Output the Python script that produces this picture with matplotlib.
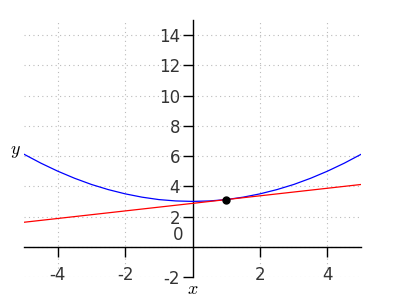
import matplotlib
matplotlib.use('Agg')
import matplotlib.pyplot as plt
import matplotlib.transforms as mtransforms

# curve values
curve_x = [-5.0, -4.5, -4.0, -3.5, -3.0, -2.5, -2.0, -1.5, -1.0, -0.5, 0.0,
           0.5, 1.0, 1.5, 2.0, 2.5, 3.0, 3.5, 4.0, 4.5, 5.0]
curve_y = [6.12, 5.53, 5.00, 4.53, 4.12, 3.78, 3.50, 3.28, 3.12, 3.03, 3.00,
           3.03, 3.12, 3.28, 3.50, 3.78, 4.12, 4.53, 5.00, 5.53, 6.12]

# tangent line endpoints
line_x = [-5.0, 5.0]
line_y = [1.62, 4.12]

# point of tangency
point_x = [1.0]
point_y = [3.12]

x_ticks = [-4, -2, 2, 4]
y_ticks = [-2, 0, 2, 4, 6, 8, 10, 12, 14]

plt.rcParams['mathtext.fontset'] = 'cm'
plt.rcParams['axes.unicode_minus'] = False

fig = plt.figure(figsize=(4, 3), dpi=100)
ax = fig.add_axes([0.06, 0.0767, 0.843, 0.8567])

ax.plot(curve_x, curve_y, color='blue', lw=0.9, zorder=3)
ax.plot(line_x, line_y, color='red', lw=0.9, zorder=3)
ax.plot(point_x, point_y, 'o', color='black', ms=5, zorder=4)

ax.set_xlim(-5, 5)
ax.set_ylim(-2, 15)

# axes crossing at the origin
ax.spines['left'].set_position(('data', 0))
ax.spines['bottom'].set_position(('data', 0))
ax.spines['top'].set_visible(False)
ax.spines['right'].set_visible(False)
for s in ('left', 'bottom'):
    ax.spines[s].set_linewidth(1.0)

ax.set_xticks(x_ticks)
ax.set_yticks(y_ticks)
ax.set_yticklabels([str(v) for v in y_ticks])
ax.tick_params(axis='both', direction='out', length=7, width=1,
               labelsize=12, labelcolor='#333333')
ax.tick_params(axis='x', pad=7)
ax.tick_params(axis='y', pad=2)

# shift the "0" label up a bit, like the original
for lab in ax.get_yticklabels():
    if lab.get_text() == '0':
        lab.set_transform(lab.get_transform() +
                          mtransforms.ScaledTranslation(0.03, 14 / 100, fig.dpi_scale_trans))
ax.yaxis.get_major_ticks()[1].tick1line.set_visible(False)

ax.grid(True, color='#bbbbbb', linestyle=(0, (1, 3)), linewidth=0.8)
ax.set_axisbelow(True)

fig.text(15 / 400, 1 - 151 / 300, '$y$', fontsize=13, ha='center', va='center')
fig.text(193 / 400, 1 - 289 / 300, '$x$', fontsize=13, ha='center', va='center')

fig.savefig('out.png', dpi=100)
